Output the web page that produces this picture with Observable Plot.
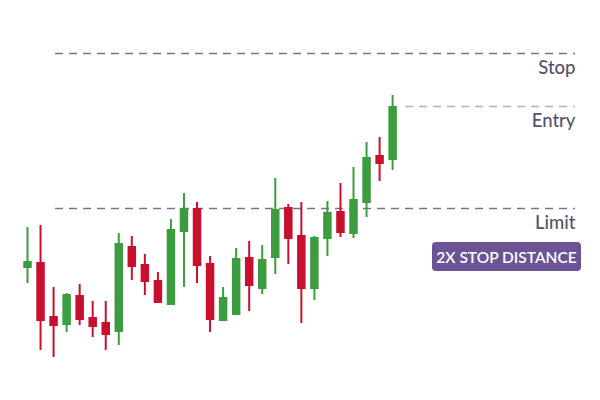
<!DOCTYPE html>
<html>
<head>
<meta charset="utf-8">
<script src="https://cdn.jsdelivr.net/npm/d3@7"></script>
<script src="https://cdn.jsdelivr.net/npm/@observablehq/plot@0.6"></script>
<style>
  html, body { margin: 0; padding: 0; background: #fff; }
  #wrap { position: relative; width: 600px; height: 400px; }
  #badge {
    position: absolute; left: 432px; top: 242px; width: 149px; height: 29px;
    background: #6b5395; border-radius: 4px; color: #fff;
    font-family: Lato, "Open Sans", sans-serif; font-size: 15.5px; font-weight: 600;
    display: flex; align-items: center; justify-content: center; letter-spacing: 0;
  }
</style>
</head>
<body>
<div id="wrap"></div>
<script>
// OHLC per candle (index order), price units
const opens  = [132,138, 84, 75,105, 83, 78, 68,154,136,120, 95,168,192,137, 79, 85,143,111,142,193,165,111,161,189,166,197,245,240];
const highs  = [173,175,113,107,116, 99, 99,167,164,146,128,181,207,198,144,113,152,159,155,222,196,198,164,199,217,233,258,263,305];
const lows   = [117, 50, 43, 68, 75, 63, 50, 55,120,105, 97, 95,113,117, 68, 79, 85, 89,106,126,136, 77,100,144,163,162,183,219,230];
const closes = [139, 79, 74,106, 80, 73, 65,157,133,118, 97,171,192,134, 80,103,142,114,141,191,161,111,163,188,167,201,243,236,294];

const levelNames  = ["Stop", "Entry", "Limit"];
const levelValues = [347, 294, 192];
const levelStart  = [2.15, 29.0, 2.15];
const levelEnd    = [42.02, 42.02, 42.02];
const badgeText = "2X STOP DISTANCE";

const candles = opens.map((o, i) => ({i, open: o, high: highs[i], low: lows[i], close: closes[i], up: closes[i] >= o}));
const levels = levelNames.map((n, k) => ({name: n, value: levelValues[k], x1: levelStart[k], x2: levelEnd[k]}));

const green = "#3b9d3f", red = "#c8102e";

const chart = Plot.plot({
  width: 600, height: 400,
  margin: 0,
  x: {domain: [-2.07, 43.94], axis: null},
  y: {domain: [0, 400], axis: null},
  style: {background: "transparent"},
  marks: [
    Plot.ruleY(levels, {y: "value", x1: "x1", x2: "x2",
      stroke: d => d.name === "Entry" ? "#b0b0b8" : "#787684",
      strokeWidth: 1.6, strokeDasharray: "8,6"}),
    Plot.ruleX(candles, {x: "i", y1: "low", y2: "high", stroke: d => d.up ? green : red, strokeWidth: 2}),
    Plot.ruleX(candles, {x: "i", y1: "open", y2: "close", stroke: d => d.up ? green : red, strokeWidth: 8.5, strokeLinecap: "butt"}),
    Plot.text(levels, {x: "x2", y: "value", text: "name", textAnchor: "end", dy: 15,
      fill: "#57526a", fontSize: 18.5, fontWeight: 500, fontFamily: "Lato, 'Open Sans', sans-serif"})
  ]
});

const wrap = document.getElementById("wrap");
wrap.appendChild(chart);
const badge = document.createElement("div");
badge.id = "badge";
badge.textContent = badgeText;
wrap.appendChild(badge);
</script>
</body>
</html>
